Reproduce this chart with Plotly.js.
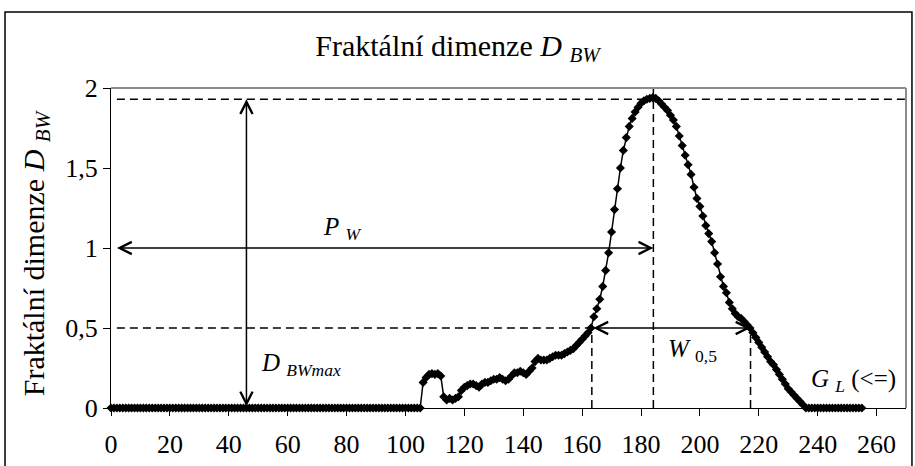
<!DOCTYPE html>
<html>
<head>
<meta charset="utf-8">
<script src="https://cdn.plot.ly/plotly-3.0.1.min.js"></script>
<style>html,body{margin:0;padding:0;background:#fff;}#chart{width:915px;height:466px;}</style>
</head>
<body>
<div id="chart"></div>
<script>
// Grey levels (x) and fractal dimension D_BW (y)
const greyLevels = [
0,1,2,3,4,5,6,7,8,9,10,11,12,13,14,15,16,17,18,19,
20,21,22,23,24,25,26,27,28,29,30,31,32,33,34,35,36,37,38,39,
40,41,42,43,44,45,46,47,48,49,50,51,52,53,54,55,56,57,58,59,
60,61,62,63,64,65,66,67,68,69,70,71,72,73,74,75,76,77,78,79,
80,81,82,83,84,85,86,87,88,89,90,91,92,93,94,95,96,97,98,99,
100,101,102,103,104,105,106,107,108,109,110,111,112,113,114,115,116,117,118,119,
120,121,122,123,124,125,126,127,128,129,130,131,132,133,134,135,136,137,138,139,
140,141,142,143,144,145,146,147,148,149,150,151,152,153,154,155,156,157,158,159,
160,161,162,163,164,165,166,167,168,169,170,171,172,173,174,175,176,177,178,179,
180,181,182,183,184,185,186,187,188,189,190,191,192,193,194,195,196,197,198,199,
200,201,202,203,204,205,206,207,208,209,210,211,212,213,214,215,216,217,218,219,
220,221,222,223,224,225,226,227,228,229,230,231,232,233,234,235,236,237,238,239,
240,241,242,243,244,245,246,247,248,249,250,251,252,253,254,255
];
const dimensionBW = [
0,0,0,0,0,0,0,0,0,0, 0,0,0,0,0,0,0,0,0,0,
0,0,0,0,0,0,0,0,0,0, 0,0,0,0,0,0,0,0,0,0,
0,0,0,0,0,0,0,0,0,0, 0,0,0,0,0,0,0,0,0,0,
0,0,0,0,0,0,0,0,0,0, 0,0,0,0,0,0,0,0,0,0,
0,0,0,0,0,0,0,0,0,0, 0,0,0,0,0,0,0,0,0,0,
0,0,0,0,0,0,
0.16,0.19,0.21,0.215,0.21,0.215,0.2,0.07,0.05,0.06,
0.05,0.06,0.07,0.11,0.13,0.14,0.15,0.15,0.14,0.13,
0.15,0.16,0.16,0.17,0.18,0.18,0.19,0.18,0.17,0.18,
0.2,0.22,0.22,0.23,0.22,0.21,0.23,0.25,0.29,0.31,
0.3,0.3,0.3,0.31,0.32,0.33,0.33,0.33,0.34,0.35,
0.36,0.37,0.39,0.41,0.43,0.45,0.47,0.5,0.57,0.62,
0.68,0.76,0.86,0.97,1.1,1.24,1.37,1.5,1.61,1.69,
1.76,1.81,1.85,1.88,1.905,1.92,1.93,1.935,1.94,1.935,
1.92,1.9,1.88,1.86,1.83,1.8,1.76,1.7,1.64,1.58,
1.52,1.46,1.38,1.31,1.26,1.2,1.14,1.09,1.04,0.97,
0.9,0.82,0.76,0.72,0.66,0.62,0.59,0.57,0.56,0.54,
0.52,0.5,0.47,0.44,0.41,0.38,0.35,0.32,0.29,0.27,
0.24,0.21,0.18,0.15,0.12,0.1,0.08,0.06,0.04,0.02,
0,0,0,0,0,0,0,0,0,0, 0,0,0,0,0,0,0,0,0,0
];
const xTickVals = [0,20,40,60,80,100,120,140,160,180,200,220,240,260];
const yTickVals = [0,0.5,1,1.5,2];
const yTickText = ['0','0,5','1','1,5','2'];

// Characteristic values
const peakX = 184.2, peakY = 1.93;
const halfY = 0.5, halfLeft = 163.3, halfRight = 217.2;
const pwY = 1, pwStart = 1.5;
const dmaxX = 46;

const FONT = '"Liberation Serif", "Times New Roman", Times, serif';
const black = '#000';
const dashPat = '8px,5px';

const trace = {
  x: greyLevels, y: dimensionBW, type: 'scatter', mode: 'lines+markers',
  line: {color: black, width: 1.5},
  marker: {symbol: 'diamond', size: 7, color: black},
  hoverinfo: 'skip', showlegend: false, cliponaxis: false
};

function dline(x0,y0,x1,y1){
  return {type:'line', xref:'x', yref:'y', x0:x0, y0:y0, x1:x1, y1:y1,
          line:{color:black, width:1.5, dash:dashPat}};
}
const shapes = [
  dline(2, peakY, 270, peakY),
  dline(2, halfY, halfLeft, halfY),
  dline(peakX, 0, peakX, 2),
  dline(halfLeft, 0, halfLeft, halfY),
  dline(halfRight, 0, halfRight, halfY),
  // plot-area border (grey top/right)
  {type:'line', xref:'paper', yref:'paper', x0:0, y0:1, x1:1, y1:1, line:{color:'#8c8c8c', width:2}},
  {type:'line', xref:'paper', yref:'paper', x0:1, y0:0, x1:1, y1:1, line:{color:'#8c8c8c', width:2}},
  // chart-area border
  {type:'rect', xref:'paper', yref:'paper', x0:-0.1333, y0:-0.2, x1:1.0075, y1:1.2375, line:{color:black, width:1.5}, layer:'below'}
];

function arrow(x0,y0,x1,y1){
  return {x:x1, y:y1, ax:x0, ay:y0, xref:'x', yref:'y', axref:'x', ayref:'y', text:'',
          showarrow:true, arrowside:'end+start', arrowhead:5, startarrowhead:5,
          arrowsize:1.6, startarrowsize:1.6, arrowwidth:1.5, arrowcolor:black,
          standoff:0, startstandoff:0};
}
function label(x,y,text){
  return {x:x, y:y, xref:'x', yref:'y', text:text, showarrow:false,
          font:{family:FONT, size:25, color:black}, xanchor:'center', yanchor:'middle'};
}
const annotations = [
  arrow(pwStart, pwY, peakX, pwY),
  arrow(halfLeft, halfY, halfRight, halfY),
  arrow(dmaxX, 0, dmaxX, peakY),
  label(78.5, 1.12, '<i>P</i> <sub><i>W</i></sub>'),
  label(64.5, 0.27, '<i>D</i> <sub><i>BWmax</i></sub>'),
  label(197.5, 0.36, '<i>W</i> <sub>0,5</sub>'),
  label(252, 0.17, '<i>G</i> <sub><i>L</i></sub> (&lt;=)'),
  {x:-0.095, y:0.485, xref:'paper', yref:'paper', text:'Fraktální dimenze <i>D</i> <sub><i>BW</i></sub>',
   textangle:-90, showarrow:false, font:{family:FONT, size:30, color:black}, xanchor:'center', yanchor:'middle'}
];

const layout = {
  width: 915, height: 466,
  margin: {l:111, r:9, t:88, b:58, pad:0},
  paper_bgcolor:'#fff', plot_bgcolor:'#fff',
  font: {family: FONT, color: black},
  title: {text:'Fraktální dimenze <i>D</i> <sub><i>BW</i></sub>', font:{family:FONT, size:30, color:black},
          x:0.5, xref:'container', y:1-45/466, yref:'container', xanchor:'center', yanchor:'middle'},
  xaxis: {range:[0,270], tickvals:xTickVals, ticks:'outside', ticklen:7, tickwidth:1, tickcolor:black,
          showline:true, linecolor:black, linewidth:1, showgrid:false, zeroline:false, ticklabelstandoff:6,
          tickfont:{family:FONT, size:26, color:black}, fixedrange:true},
  yaxis: {range:[0,2], tickvals:yTickVals, ticktext:yTickText, ticks:'outside', ticklen:7, tickwidth:1, tickcolor:black,
          showline:true, linecolor:black, linewidth:1, showgrid:false, zeroline:false, ticklabelstandoff:0,
          tickfont:{family:FONT, size:26, color:black}, fixedrange:true},
  shapes: shapes,
  annotations: annotations
};

Plotly.newPlot('chart', [trace], layout, {staticPlot:true, displayModeBar:false});
</script>
</body>
</html>
